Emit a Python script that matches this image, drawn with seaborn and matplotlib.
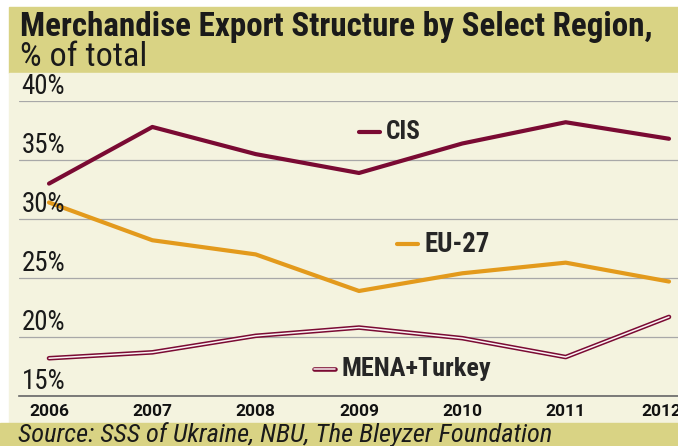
import numpy as np
import pandas as pd
import seaborn as sns
import matplotlib.pyplot as plt
from matplotlib import font_manager
from matplotlib.patches import Rectangle
from matplotlib.lines import Line2D
from matplotlib.legend_handler import HandlerTuple
import matplotlib.transforms as mtransforms

# data
years = [2006, 2007, 2008, 2009, 2010, 2011, 2012]
cis = [33.0, 37.8, 35.5, 33.9, 36.4, 38.2, 36.8]
eu27 = [31.4, 28.2, 27.0, 23.9, 25.4, 26.3, 24.7]
mena_turkey = [18.2, 18.7, 20.1, 20.8, 19.9, 18.3, 21.7]
y_ticks = [15, 20, 25, 30, 35, 40]
y_tick_labels = ['15%', '20%', '25%', '30%', '35%', '40%']

df = pd.DataFrame({
    'year': years * 3,
    'share': cis + eu27 + mena_turkey,
    'region': ['CIS'] * 7 + ['EU-27'] * 7 + ['MENA+Turkey'] * 7,
})

maroon = '#7A0A33'
orange = '#E39A1C'
khaki = '#D9D384'
cream = '#F4F3DF'

sns.set_style('white')

# pick the narrowest font available
names = {f.name for f in font_manager.fontManager.ttflist}
cond = [f for f in font_manager.fontManager.ttflist
        if f.name == 'DejaVu Sans' and 'condensed' in str(f.stretch)]
stretch = 'normal'
if 'Liberation Sans Narrow' in names:
    fam = 'Liberation Sans Narrow'
elif 'Roboto Condensed' in names:
    fam = 'Roboto Condensed'
elif cond:
    fam = 'DejaVu Sans'
    stretch = 'condensed'
elif 'Roboto' in names:
    fam = 'Roboto'
else:
    fam = 'DejaVu Sans'
plt.rcParams['font.family'] = [fam, 'DejaVu Sans']
plt.rcParams['font.stretch'] = stretch
year_fam = ['Roboto', 'DejaVu Sans'] if 'Roboto' in names else [fam, 'DejaVu Sans']

W, H = 678, 446
fig = plt.figure(figsize=(W / 100, H / 100), dpi=100)

def fx(px):
    return px / W

def fy(py):
    return 1 - py / H

def fit(txt, width_px):
    # scale a text so it takes about the same width as in the reference
    r = fig.canvas.get_renderer()
    w = txt.get_window_extent(r).width
    txt.set_fontsize(txt.get_fontsize() * width_px / w)

# background bands
fig.patches.append(Rectangle((fx(9), fy(73)), 1, fy(7) - fy(73), transform=fig.transFigure,
                             color=khaki, zorder=-5))
fig.patches.append(Rectangle((fx(9), fy(423)), 1, fy(73) - fy(423), transform=fig.transFigure,
                             color=cream, zorder=-5))
fig.patches.append(Rectangle((0, 0), 1, fy(423), transform=fig.transFigure,
                             color=khaki, zorder=-5))

ax = fig.add_axes([fx(19), fy(396), 1 - fx(19), fy(101) - fy(396)])
ax.set_facecolor('none')
ax.set_zorder(2)

sub = df[df['region'] == 'CIS']
sns.lineplot(data=sub, x='year', y='share', color=maroon, linewidth=3.0, ax=ax)
sub = df[df['region'] == 'EU-27']
sns.lineplot(data=sub, x='year', y='share', color=orange, linewidth=3.0, ax=ax)
sub = df[df['region'] == 'MENA+Turkey']
sns.lineplot(data=sub, x='year', y='share', color=maroon, linewidth=3.3, ax=ax)
sns.lineplot(data=sub, x='year', y='share', color='#FBF3F4', linewidth=1.1, ax=ax)

step = 103.3
ax.set_xlim(2006 - 30 / step, 2012 + 9 / step)
ax.set_ylim(15, 40)
ax.set_xticks(years)
ax.set_xticklabels([str(y) for y in years], fontsize=12.5, fontweight='bold',
                   color='#111111', family=year_fam)
ax.set_yticks(y_ticks)
ax.set_yticklabels([])
ax.tick_params(axis='x', direction='out', length=6, width=1.1, color='#666666', pad=0)
ax.tick_params(axis='y', length=0)
ax.grid(axis='y', color='#A8A8A8', linewidth=0.9)
ax.grid(axis='x', visible=False)
for s in ['top', 'right', 'left']:
    ax.spines[s].set_visible(False)
ax.spines['bottom'].set_color('#666666')
ax.spines['bottom'].set_linewidth(1.2)
ax.set_xlabel('')
ax.set_ylabel('')

# last year label is pulled left a little, as in the reference
last = ax.get_xticklabels()[-1]
last.set_transform(last.get_transform() +
                   mtransforms.ScaledTranslation(-8 / 100, 0, fig.dpi_scale_trans))

# y labels sit above the gridlines
trans = mtransforms.offset_copy(ax.get_yaxis_transform(), fig=fig, x=0, y=1, units='points')
ylabs = []
for v, lab in zip(y_ticks, y_tick_labels):
    ylabs.append(ax.text(0.004, v, lab, transform=trans, ha='left', va='bottom',
                         fontsize=14, color='#1a1a1a'))

# inline legends
def add_key(handle, label, px, py, width_px):
    leg = fig.legend([handle], [label], loc='center left', bbox_to_anchor=(fx(px), fy(py)),
                     frameon=False, handlelength=1.0, handletextpad=0.3, borderpad=0,
                     borderaxespad=0, prop={'weight': 'bold', 'size': 15},
                     handler_map={tuple: HandlerTuple(ndivide=1)})
    leg.set_zorder(3)
    fit(leg.get_texts()[0], width_px)
    return leg

add_key(Line2D([], [], color=maroon, lw=3.0), 'CIS', 359, 132, 35)
add_key(Line2D([], [], color=orange, lw=3.0), 'EU-27', 397, 244, 66)
add_key((Line2D([], [], color=maroon, lw=3.3), Line2D([], [], color='#FBF3F4', lw=1.1)),
        'MENA+Turkey', 314, 369, 150)

# titles and source
t1 = fig.text(fx(20), fy(27), 'Merchandise Export Structure by Select Region,', fontsize=20,
              fontweight='bold', color='#1a1a1a', ha='left', va='center')
t2 = fig.text(fx(20), fy(57), '% of total', fontsize=19, color='#1a1a1a', ha='left', va='center')
t3 = fig.text(fx(18), fy(435), 'Source: SSS of Ukraine, NBU, The Bleyzer Foundation',
              fontsize=14, style='italic', color='#1a1a1a', ha='left', va='center')
fit(t1, 632)
fit(t2, 127)
fit(t3, 537)
for t in ylabs:
    fit(t, 44)

fig.savefig('out.png', dpi=100, facecolor='white')
